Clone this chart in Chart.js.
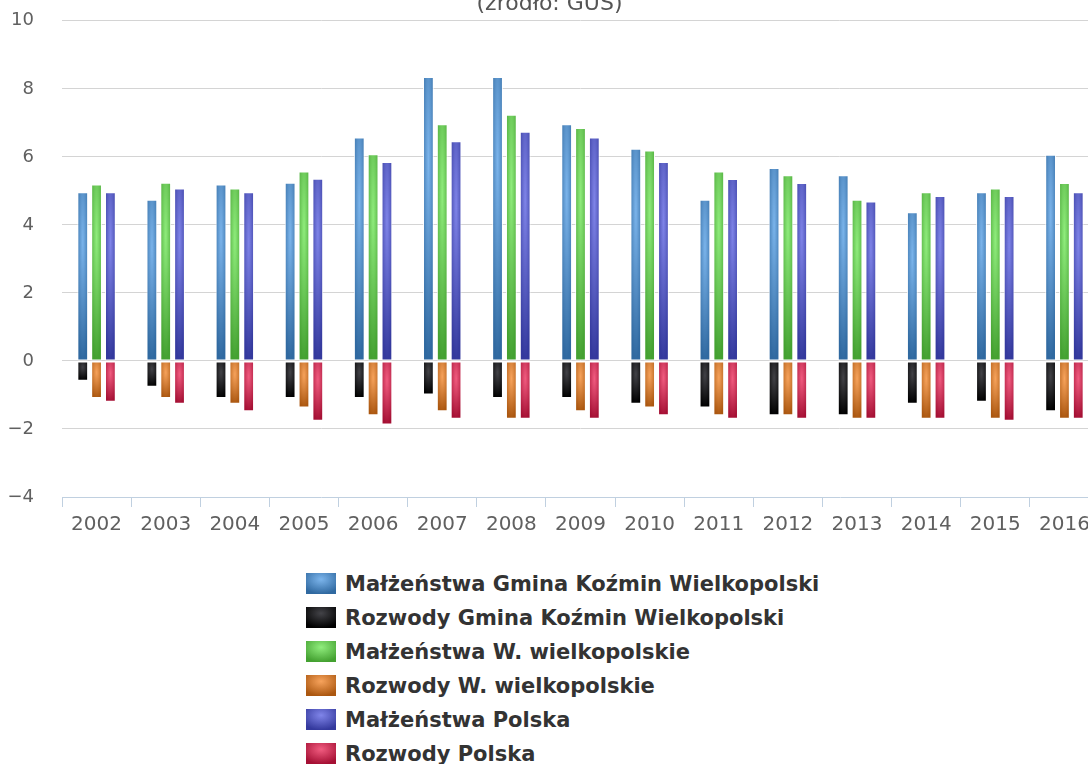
<!DOCTYPE html>
<html lang="pl">
<head>
    <meta charset="UTF-8">
    <meta name="viewport" content="width=device-width, initial-scale=1.0">
    <title>Małżeństwa i rozwody</title>
    <style>
        html, body { margin: 0; padding: 0; background: #fff; overflow: hidden; width: 1088px; height: 764px; }
        .chart-container { position: absolute; left: 0; top: -18px; width: 1110px; height: 559px; }
        .legend { position: absolute; left: 306px; top: 573px; margin: 0; padding: 0; list-style: none;
                  font: bold 21px "DejaVu Sans", sans-serif; color: #333; }
        .legend li { position: relative; height: 34px; white-space: nowrap; }
        .legend .box { position: absolute; left: 0; top: 0; width: 30px; height: 21px; }
        .legend .txt { position: absolute; left: 39px; top: 1px; line-height: 21px; }
    </style>
</head>
<body>
    <div class="chart-container">
        <canvas id="chart"></canvas>
    </div>
    <ul class="legend" id="legend"></ul>

    <script src="https://cdn.jsdelivr.net/npm/chart.js@4/dist/chart.umd.min.js"></script>
    <script>
        // dane (na 1000 ludności)
        const years = ['2002', '2003', '2004', '2005', '2006', '2007', '2008', '2009', '2010', '2011', '2012', '2013', '2014', '2015', '2016'];
        const malzGmina  = [4.96, 4.74, 5.19, 5.24, 6.57, 8.35, 8.35, 6.96, 6.24, 4.74, 5.67, 5.46, 4.37, 4.96, 6.06];
        const rozwGmina  = [-0.58, -0.76, -1.09, -1.09, -1.09, -0.99, -1.09, -1.09, -1.26, -1.37, -1.60, -1.60, -1.26, -1.20, -1.48];
        const malzWoj    = [5.19, 5.24, 5.07, 5.57, 6.08, 6.96, 7.24, 6.85, 6.19, 5.57, 5.46, 4.74, 4.96, 5.07, 5.23];
        const rozwWoj    = [-1.09, -1.09, -1.26, -1.37, -1.60, -1.48, -1.70, -1.48, -1.37, -1.60, -1.60, -1.70, -1.70, -1.70, -1.70];
        const malzPolska = [4.96, 5.07, 4.96, 5.36, 5.85, 6.46, 6.74, 6.57, 5.85, 5.35, 5.23, 4.69, 4.85, 4.85, 4.96];
        const rozwPolska = [-1.20, -1.26, -1.48, -1.76, -1.87, -1.70, -1.70, -1.70, -1.60, -1.70, -1.70, -1.70, -1.70, -1.76, -1.70];

        const seriesNames = ['Małżeństwa Gmina Koźmin Wielkopolski', 'Rozwody Gmina Koźmin Wielkopolski',
                             'Małżeństwa W. wielkopolskie', 'Rozwody W. wielkopolskie',
                             'Małżeństwa Polska', 'Rozwody Polska'];
        const seriesData = [malzGmina, rozwGmina, malzWoj, rozwWoj, malzPolska, rozwPolska];
        const seriesStack = ['gmina', 'gmina', 'woj', 'woj', 'polska', 'polska'];
        const colors = ['#7cb5ec', '#434348', '#90ed7d', '#f7a35c', '#8085e9', '#f15c80'];

        // kolor przyciemniony jak w gradiencie (brighten -0.3)
        function darken(hex) {
            const n = parseInt(hex.slice(1), 16);
            const c = [(n >> 16) & 255, (n >> 8) & 255, n & 255].map(v => Math.max(0, v - 76));
            return 'rgb(' + c.join(',') + ')';
        }

        // gradient radialny w obrysie słupka
        function barPattern(ctx, el, color) {
            const { x, y, base, width } = el.getProps(['x', 'y', 'base', 'width'], true);
            const left = x - width / 2;
            const top = Math.min(y, base);
            const w = Math.max(1, Math.ceil(width) + 1);
            const h = Math.max(1, Math.ceil(Math.abs(base - y)) + 1);
            const off = document.createElement('canvas');
            off.width = w; off.height = h;
            const o = off.getContext('2d');
            o.scale(width, Math.abs(base - y) || 1);
            const g = o.createRadialGradient(0.5, 0.3, 0, 0.5, 0.3, 0.7);
            g.addColorStop(0, color);
            g.addColorStop(1, darken(color));
            o.fillStyle = g;
            o.fillRect(0, 0, 2, 2);
            const p = ctx.createPattern(off, 'no-repeat');
            p.setTransform(new DOMMatrix([1, 0, 0, 1, left, top]));
            return p;
        }

        const gradientBars = {
            id: 'gradientBars',
            beforeDatasetsDraw(chart) {
                chart.data.datasets.forEach((ds, i) => {
                    chart.getDatasetMeta(i).data.forEach(el => {
                        el.options.backgroundColor = barPattern(chart.ctx, el, colors[i]);
                    });
                });
            }
        };

        Chart.defaults.font.family = '"DejaVu Sans", sans-serif';

        const datasets = seriesNames.map((name, i) => ({
            label: name,
            data: seriesData[i],
            stack: seriesStack[i],
            backgroundColor: () => colors[i],
            borderColor: 'rgba(255,255,255,0.85)',
            borderWidth: 1,
            borderSkipped: false,
            categoryPercentage: 0.6,
            barPercentage: 0.78
        }));

        new Chart(document.getElementById('chart'), {
            type: 'bar',
            data: { labels: years, datasets: datasets },
            plugins: [gradientBars],
            options: {
                responsive: true,
                maintainAspectRatio: false,
                animation: false,
                layout: { padding: { left: 0, right: 11, top: 0, bottom: 0 } },
                plugins: {
                    legend: { display: false },
                    tooltip: { enabled: false },
                    subtitle: {
                        display: true,
                        text: '(źródło: GUS)',
                        color: '#555',
                        font: { size: 22, weight: 'normal' },
                        padding: { top: 0, bottom: 3 }
                    }
                },
                scales: {
                    x: {
                        stacked: true,
                        grid: { display: true, drawOnChartArea: false, drawTicks: true, tickLength: 10, color: '#c0d0e0', offset: true },
                        border: { display: true, color: '#c0d0e0', width: 1 },
                        ticks: { color: '#606060', font: { size: 20 }, padding: 6, maxRotation: 0, autoSkip: false },
                        afterFit(scale) { scale.height = 44; }
                    },
                    y: {
                        stacked: true,
                        min: -4,
                        max: 10,
                        grid: {
                            drawTicks: false,
                            color: ctx => ctx.tick && ctx.tick.value === -4 ? 'rgba(0,0,0,0)' : '#d4d4d4'
                        },
                        border: { display: false },
                        ticks: {
                            stepSize: 2,
                            color: '#606060',
                            font: { size: 18 },
                            padding: 28,
                            callback: v => v < 0 ? '\u2212' + Math.abs(v) : String(v)
                        },
                        afterFit(scale) { scale.width = 62; }
                    }
                }
            }
        });

        // legenda pionowa pod wykresem
        const legend = document.getElementById('legend');
        seriesNames.forEach((name, i) => {
            const li = document.createElement('li');
            const box = document.createElement('span');
            box.className = 'box';
            box.style.background = 'radial-gradient(70% 70% at 50% 30%, ' + colors[i] + ' 0%, ' + darken(colors[i]) + ' 100%)';
            const txt = document.createElement('span');
            txt.className = 'txt';
            txt.textContent = name;
            li.appendChild(box);
            li.appendChild(txt);
            legend.appendChild(li);
        });
    </script>
</body>
</html>
